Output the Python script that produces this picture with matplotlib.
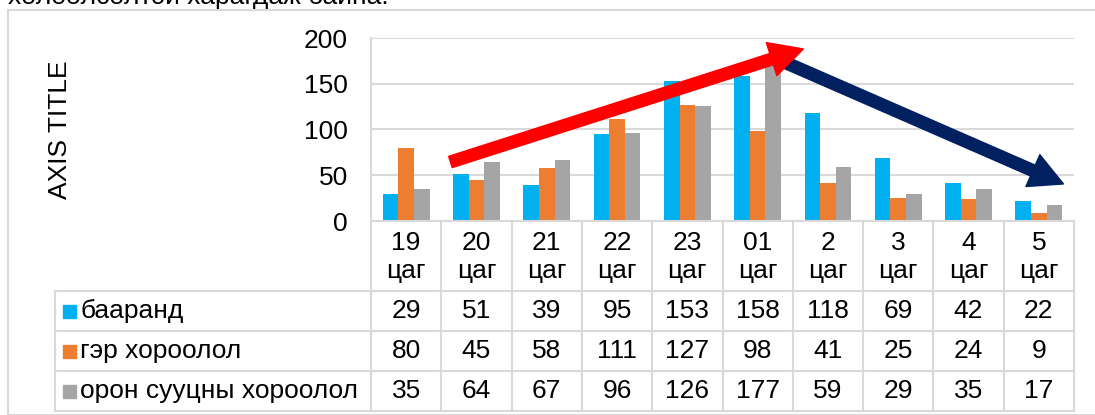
import numpy as np
import matplotlib
matplotlib.use('Agg')
import matplotlib.pyplot as plt
from matplotlib.patches import FancyArrowPatch, Rectangle, ArrowStyle

plt.rcParams['font.family'] = ['Liberation Sans', 'DejaVu Sans']

hours = ['19\nцаг', '20\nцаг', '21\nцаг', '22\nцаг', '23\nцаг',
         '01\nцаг', '2\nцаг', '3\nцаг', '4\nцаг', '5\nцаг']
series_names = ['бааранд', 'гэр хороолол', 'орон сууцны хороолол']
baarand = [29, 51, 39, 95, 153, 158, 118, 69, 42, 22]
ger = [80, 45, 58, 111, 127, 98, 41, 25, 24, 9]
oron = [35, 64, 67, 96, 126, 177, 59, 29, 35, 17]
colors = ['#00B0F0', '#ED7D31', '#A5A5A5']

W, H = 1095, 415
fig = plt.figure(figsize=(W / 100, H / 100), dpi=100)

def px(x0, y0, x1, y1):
    # pixel box (top-left origin) -> figure fraction rect
    return [x0 / W, 1 - y1 / H, (x1 - x0) / W, (y1 - y0) / H]

grid_c = '#D9D9D9'
fs = 19

# outer chart frame and clipped text above it
fig.patches.append(Rectangle((8 / W, 0), 2, 1 - 10 / H, transform=fig.transFigure,
                             fill=False, ec=grid_c, lw=1.5))
fig.text(8 / W, 1 - 4 / H, 'хөлөөлсөлтэй харагдаж байна.', fontsize=fs,
         va='baseline', ha='left')

ax = fig.add_axes(px(371, 38, 1074, 221))
x = np.arange(len(hours))
bw = 0.222
for i, vals in enumerate([baarand, ger, oron]):
    ax.bar(x + (i - 1) * bw, vals, bw, color=colors[i], zorder=2)

ax.set_xlim(-0.5, 9.5)
ax.set_ylim(0, 200)
ax.set_yticks([0, 50, 100, 150, 200])
ax.tick_params(axis='y', length=0, pad=16.5, labelsize=fs)
ax.set_xticks([])
ax.grid(axis='y', color=grid_c, lw=1.5, zorder=0)
for s in ['right', 'top']:
    ax.spines[s].set_visible(False)
ax.spines['left'].set_color(grid_c)
ax.spines['left'].set_linewidth(1.5)
ax.spines['bottom'].set_color(grid_c)
ax.spines['bottom'].set_linewidth(1.5)
fig.text(60 / W, 1 - 130 / H, 'AXIS TITLE', rotation=90, fontsize=fs,
         ha='center', va='center')

# trend arrows
navy = FancyArrowPatch((5.25, 178), (9.35, 40.5),
                       arrowstyle=ArrowStyle.Simple(head_length=24, head_width=25, tail_width=8.5),
                       mutation_scale=1, color='#002060', shrinkA=0, shrinkB=0,
                       clip_on=False, zorder=5)
ax.add_patch(navy)
red = FancyArrowPatch((0.63, 64.5), (5.65, 188),
                      arrowstyle=ArrowStyle.Simple(head_length=24, head_width=25, tail_width=8.5),
                      mutation_scale=1, color='#FF0000', shrinkA=0, shrinkB=0,
                      clip_on=False, zorder=6)
ax.add_patch(red)

# data table
tx = fig.add_axes(px(55, 221, 1074, 411))
unit = 70.3
left = -0.5 - (371 - 55) / unit
tx.set_xlim(left, 9.5)
tx.set_ylim(190, 0)
tx.axis('off')
lw = 1.5
for b in np.arange(-0.5, 10.0, 1.0):
    tx.plot([b, b], [0, 190], color=grid_c, lw=lw, clip_on=False)
tx.plot([left, left], [70, 190], color=grid_c, lw=lw, clip_on=False)
for yy in [70, 110, 150, 190]:
    tx.plot([left, 9.5], [yy, yy], color=grid_c, lw=lw, clip_on=False)

for i, h in enumerate(hours):
    tx.text(i, 36, h, ha='center', va='center', fontsize=fs, linespacing=1.2)

rows = [baarand, ger, oron]
for r, (name, vals) in enumerate(zip(series_names, rows)):
    yc = 90 + 40 * r
    tx.add_patch(Rectangle((left + 8 / unit, yc - 6.5), 13 / unit, 13,
                           color=colors[r], clip_on=False))
    tx.text(left + 25 / unit, yc, name, ha='left', va='center', fontsize=fs)
    for i, v in enumerate(vals):
        tx.text(i, yc, str(v), ha='center', va='center', fontsize=fs)

fig.savefig('out.png', dpi=100)
